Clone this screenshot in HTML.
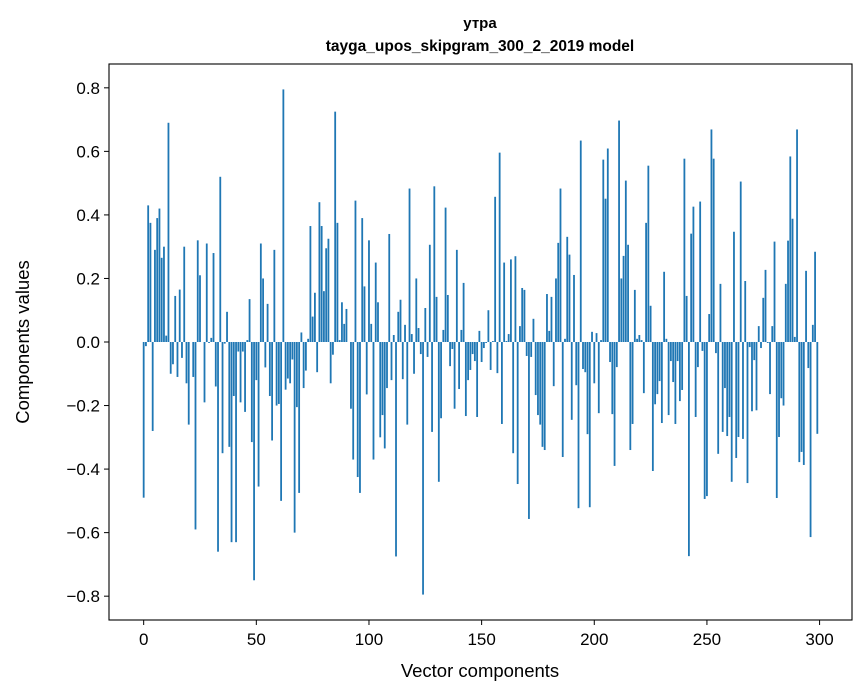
<!DOCTYPE html>
<html><head><meta charset="utf-8"><style>
body{margin:0;background:#fff;}
svg{display:block;font-family:"Liberation Sans","DejaVu Sans",sans-serif;}
</style></head><body>
<svg id="chart" width="867" height="696" viewBox="0 0 867 696" xmlns="http://www.w3.org/2000/svg">
<rect x="0" y="0" width="867" height="696" fill="#fff"/>
<text x="480" y="28" text-anchor="middle" font-size="15" font-weight="bold">утра</text>
<text x="480" y="51" text-anchor="middle" font-size="15.5" font-weight="bold">tayga_upos_skipgram_300_2_2019 model</text>
<g id="bars"></g>
<g id="axes"></g>
<text x="480" y="677" text-anchor="middle" font-size="18.5">Vector components</text>
<text transform="translate(29,342) rotate(-90)" text-anchor="middle" font-size="18.5">Components values</text>
</svg>
<script>
const values = [
-0.49,-0.013,0.43,0.375,-0.28,0.29,0.39,0.42,0.265,0.30,
0.02,0.69,-0.1,-0.07,0.145,-0.11,0.165,-0.05,0.30,-0.13,
-0.26,0,-0.11,-0.59,0.32,0.21,0,-0.19,0.31,-0.003,
0.013,0.28,-0.14,-0.66,0.52,-0.35,-0.005,0.095,-0.33,-0.63,
-0.17,-0.63,-0.03,-0.19,-0.03,-0.22,0.006,0.135,-0.315,-0.75,
-0.12,-0.455,0.31,0.20,-0.08,0.12,-0.17,-0.31,0.29,-0.2,
-0.195,-0.5,0.795,-0.15,-0.115,-0.13,-0.055,-0.6,-0.205,-0.475,
0.03,-0.145,-0.09,0.01,0.365,0.08,0.155,-0.095,0.44,0.365,
0.16,0.295,0.325,-0.13,-0.04,0.725,0.375,0.006,0.125,0.057,
0.104,0,-0.21,-0.37,0.445,-0.425,-0.475,0.39,0.175,-0.165,
0.32,0.057,-0.37,0.25,0.125,-0.30,-0.23,-0.335,-0.145,0.34,
-0.12,0.022,-0.675,0.095,0.133,-0.117,0.054,-0.26,0.483,0.025,
-0.1,0.2,0.044,-0.038,-0.795,0.107,-0.047,0.306,-0.283,0.49,
0.142,-0.44,-0.24,0.038,0.423,0.148,-0.076,-0.022,-0.21,0.29,
-0.148,0.038,0.186,-0.233,-0.12,-0.088,-0.038,-0.06,-0.236,0.035,
-0.063,-0.019,-0.003,0.1,-0.088,0.003,0.457,-0.098,0.596,-0.258,
0.25,0.003,0.025,0.26,-0.35,0.27,-0.447,0.05,0.17,0.164,
-0.044,-0.557,-0.047,0.073,-0.167,-0.23,-0.26,-0.33,-0.34,0.151,
0.035,0.142,-0.139,0.2,0.312,0.483,-0.362,0.01,0.331,0.275,
-0.245,0.211,-0.136,-0.523,0.634,-0.085,-0.095,-0.29,-0.52,0.032,
-0.13,0.028,-0.224,0.006,0.574,0.451,0.609,-0.063,-0.227,-0.39,
-0.079,0.697,0.2,0.271,0.508,0.306,-0.34,-0.258,0.164,0.01,
0.022,0.006,-0.161,0.375,0.555,0.114,-0.406,-0.196,-0.164,-0.123,
-0.255,0.221,0.01,-0.23,-0.06,-0.126,-0.258,-0.06,-0.186,-0.151,
0.577,0.145,-0.674,0.341,0.426,-0.236,-0.079,0.442,-0.028,-0.494,
-0.485,0.088,0.669,0.577,-0.035,-0.352,0.183,-0.283,-0.145,-0.296,
-0.236,-0.44,0.347,-0.365,-0.299,0.505,-0.305,0.192,-0.444,-0.016,
-0.218,-0.057,-0.215,0.05,-0.019,0.139,0.227,-0.003,-0.164,0.05,
0.316,-0.491,-0.299,-0.177,-0.2,0.183,0.319,0.584,0.388,0.016,
0.669,-0.378,-0.346,-0.387,0.224,-0.082,-0.614,0.054,0.284,-0.289
];
const xTicks = [0,50,100,150,200,250,300];
const yTicks = [-0.8,-0.6,-0.4,-0.2,0.0,0.2,0.4,0.6,0.8];
const yTickLabels = ["\u22120.8","\u22120.6","\u22120.4","\u22120.2","0.0","0.2","0.4","0.6","0.8"];

const NS="http://www.w3.org/2000/svg";
const L=109,R=852,T=64,B=620;
const xMin=-15.39,xMax=314.39,yMin=-0.875,yMax=0.875;
const xs=v=>L+(v-xMin)/(xMax-xMin)*(R-L);
const ys=v=>B-(v-yMin)/(yMax-yMin)*(B-T);
const barsG=document.getElementById('bars');
values.forEach((v,i)=>{
  const r=document.createElementNS(NS,'rect');
  const x0=xs(i-0.4),x1=xs(i+0.4);
  const y0=ys(Math.max(v,0)),y1=ys(Math.min(v,0));
  r.setAttribute('x',x0);r.setAttribute('width',x1-x0);
  r.setAttribute('y',y0);r.setAttribute('height',Math.max(y1-y0,0));
  r.setAttribute('fill','#1f77b4');
  
  
  barsG.appendChild(r);
});
const ax=document.getElementById('axes');
const frame=document.createElementNS(NS,'rect');
frame.setAttribute('x',L);frame.setAttribute('y',T);frame.setAttribute('width',R-L);frame.setAttribute('height',B-T);
frame.setAttribute('fill','none');frame.setAttribute('stroke','#000');frame.setAttribute('stroke-width','1.1');


ax.appendChild(frame);
xTicks.forEach(t=>{
  const x=xs(t);
  const l=document.createElementNS(NS,'line');
  l.setAttribute('x1',x);l.setAttribute('x2',x);l.setAttribute('y1',B);l.setAttribute('y2',B+5);l.setAttribute('stroke','#000');
  
  
  ax.appendChild(l);
  const tx=document.createElementNS(NS,'text');
  tx.setAttribute('x',x);tx.setAttribute('y',B+25);tx.setAttribute('text-anchor','middle');tx.setAttribute('font-size','17');
  tx.textContent=t;
  
  
  ax.appendChild(tx);
});
yTicks.forEach((t,i)=>{
  const y=ys(t);
  const l=document.createElementNS(NS,'line');
  l.setAttribute('x1',L-5);l.setAttribute('x2',L);l.setAttribute('y1',y);l.setAttribute('y2',y);l.setAttribute('stroke','#000');
  
  
  ax.appendChild(l);
  const tx=document.createElementNS(NS,'text');
  tx.setAttribute('x',L-9);tx.setAttribute('y',y+6);tx.setAttribute('text-anchor','end');tx.setAttribute('font-size','17');
  tx.textContent=yTickLabels[i];
  
  
  ax.appendChild(tx);
});
</script>
</body></html>
